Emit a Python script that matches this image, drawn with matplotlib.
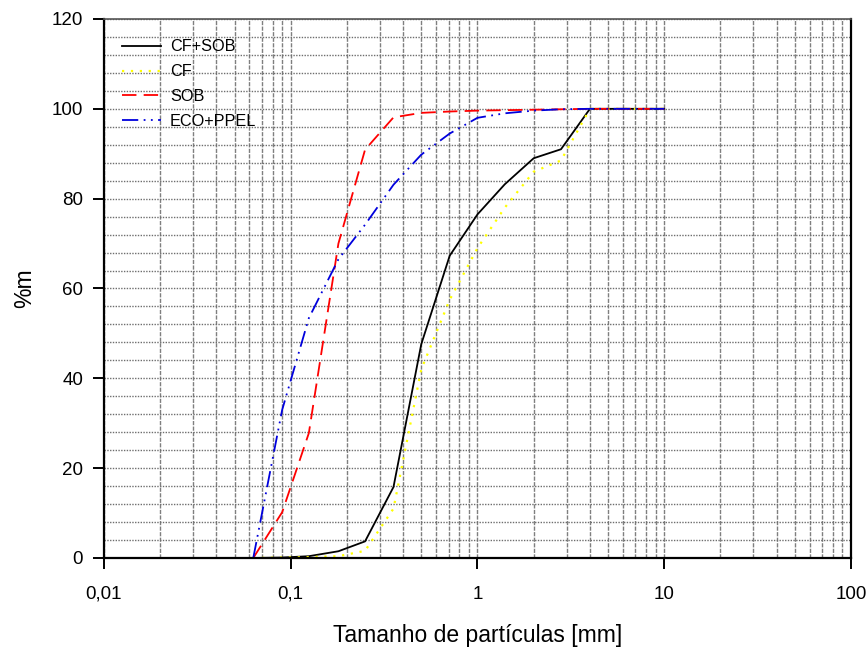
import numpy as np
import matplotlib
matplotlib.use("Agg")
from matplotlib import pyplot as plt
from matplotlib.ticker import FixedLocator, FuncFormatter, NullFormatter

plt.rcParams['font.family'] = ['Liberation Sans', 'DejaVu Sans']

# sieve sizes [mm]
sizes = [0.063, 0.09, 0.125, 0.18, 0.25, 0.355, 0.5, 0.71, 1.0, 1.4, 2.0, 2.8, 4.0, 10.0]

cf_sob = [0, 0.1, 0.4, 1.5, 3.7, 15.8, 47.6, 67.3, 76.5, 83.2, 89.0, 91.0, 100, 100]
cf = [0, 0.1, 0.2, 0.4, 1.6, 11.0, 42.0, 57.5, 69.0, 78.0, 86.0, 88.5, 100, 100]
sob = [0, 10.2, 27.8, 70.0, 90.9, 98.1, 99.1, 99.4, 99.6, 99.7, 99.8, 99.9, 100, 100]
eco_ppel = [0, 33.0, 53.4, 66.5, 74.2, 83.1, 89.8, 94.5, 98.0, 99.0, 99.6, 99.9, 100, 100]

labels = ["CF+SOB", "CF", "SOB", "ECO+PPEL"]
xticks = [0.01, 0.1, 1, 10, 100]
xticklabels = ["0,01", "0,1", "1", "10", "100"]
yticks = [0, 20, 40, 60, 80, 100, 120]

fig = plt.figure(figsize=(8.68, 6.48), dpi=100)
ax = fig.add_axes([0.1198, 0.1389, 0.8606, 0.8318])

ax.plot(sizes, cf_sob, color="black", lw=1.3, label=labels[0])
ax.plot(sizes, cf, color="#ffff00", lw=1.6, dashes=(1, 3), label=labels[1])
ax.plot(sizes, sob, color="red", lw=1.3, dashes=(8, 4), label=labels[2])
ax.plot(sizes, eco_ppel, color="#0000dd", lw=1.3, dashes=(9, 3, 1, 3, 1, 3), label=labels[3])

ax.set_xscale("log")
ax.set_xlim(0.01, 100)
ax.set_ylim(0, 120)

ax.xaxis.set_major_locator(FixedLocator(xticks))
ax.xaxis.set_major_formatter(FuncFormatter(lambda v, p: xticklabels[xticks.index(v)] if v in xticks else ""))
minor_x = [m * 10.0 ** e for e in range(-2, 2) for m in range(2, 10)]
ax.xaxis.set_minor_locator(FixedLocator(minor_x))
ax.xaxis.set_minor_formatter(NullFormatter())
ax.yaxis.set_major_locator(FixedLocator(yticks))
ax.yaxis.set_minor_locator(FixedLocator(np.arange(0, 121, 4)))

ax.tick_params(axis="both", which="major", direction="out", length=8, width=1.4,
               labelsize=13.5, pad=7)
ax.tick_params(axis="x", which="major", pad=12)
ax.tick_params(which="minor", length=0)

ax.grid(True, axis="x", which="both", color="#7f7f7f", lw=1.0, ls=(0, (3, 1)))
ax.grid(True, axis="y", which="both", color="#6e6e6e", lw=1.0, ls=(0, (1, 1)))
ax.set_axisbelow(True)

for s in ["left", "bottom", "right"]:
    ax.spines[s].set_linewidth(1.6)
ax.spines["top"].set_linewidth(1.2)
ax.spines["top"].set_color("#555555")

ax.set_xlabel("Tamanho de partículas [mm]", fontsize=16.5, labelpad=15)
ax.set_ylabel("%m", fontsize=16.5, labelpad=11)

ax.legend(loc="upper left", bbox_to_anchor=(0.024, 0.962), frameon=False,
          fontsize=11.7, handlelength=2.4, handletextpad=0.55, labelspacing=0.6,
          borderpad=0, borderaxespad=0)

fig.savefig("out.png", dpi=100)
